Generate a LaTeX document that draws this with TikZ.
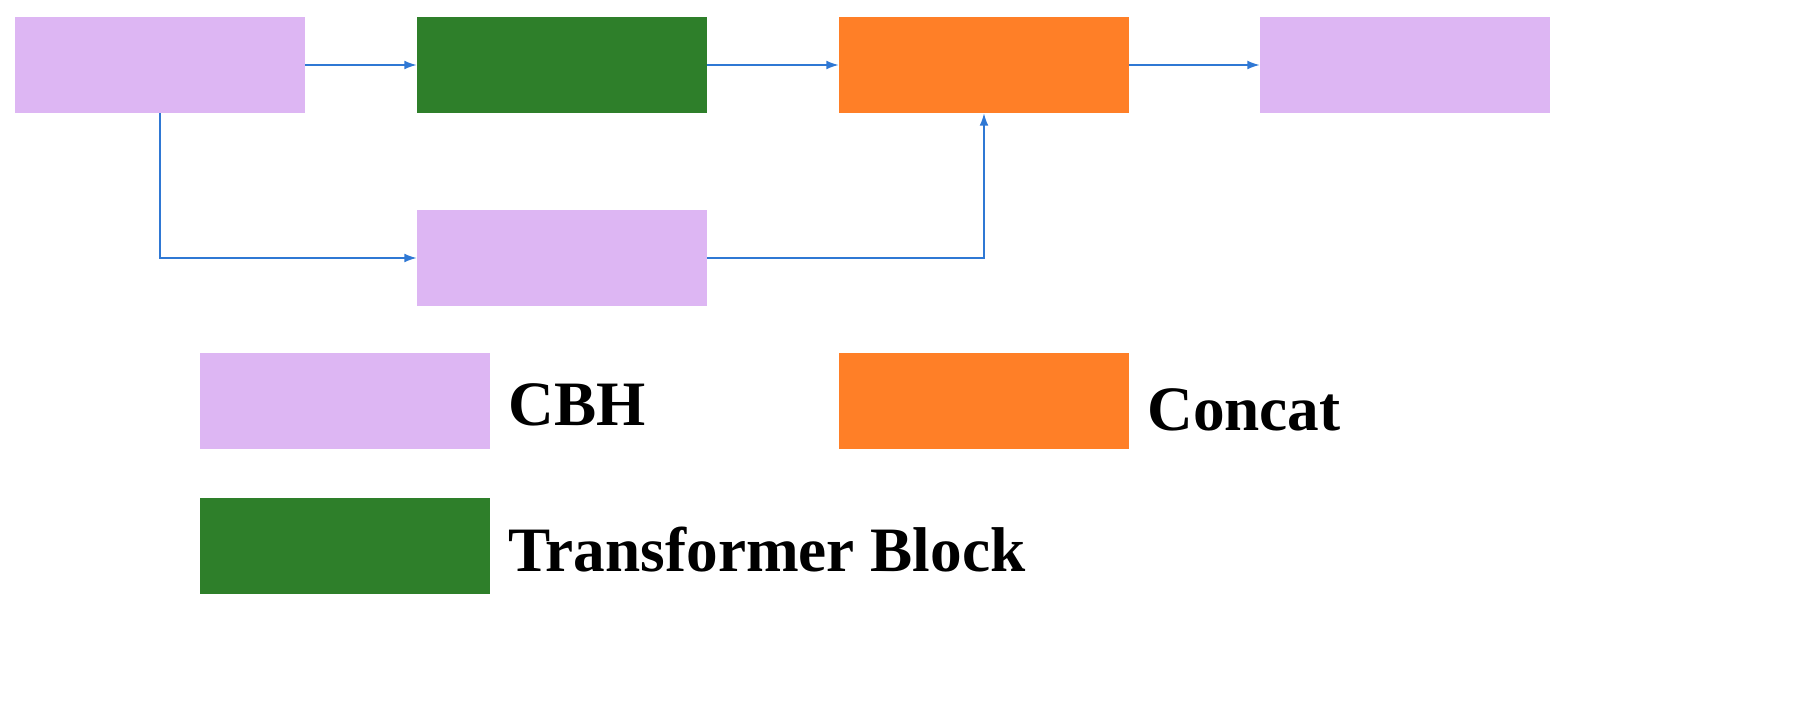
\documentclass[tikz,border=0pt]{standalone}
\usepackage{fontspec}
\setmainfont{Liberation Serif}
\usetikzlibrary{arrows.meta}
\definecolor{cbh}{HTML}{DDB6F3}
\definecolor{tb}{HTML}{2E7F2A}
\definecolor{cc}{HTML}{FF7F27}
\definecolor{ar}{HTML}{2F78D4}
\begin{document}
\begin{tikzpicture}[x=0.02cm,y=-0.02cm,
  box/.style={draw=none,minimum width=5.8cm,minimum height=1.92cm,inner sep=0},
  lab/.style={font=\bfseries\fontsize{36}{42}\selectfont,anchor=west,inner sep=0},
  conn/.style={draw=ar,line width=0.8pt,-{Latex[length=7pt,width=5pt]}}]
\useasboundingbox (0,0) rectangle (1820,719);
\node[box,fill=cbh] (a) at (160,65) {};
\node[box,fill=tb] (t) at (562,65) {};
\node[box,fill=cc] (c) at (984,65) {};
\node[box,fill=cbh] (o) at (1405,65) {};
\node[box,fill=cbh] (b) at (562,258) {};
\node[box,fill=cbh] (l1) at (345,401) {};
\node[box,fill=cc] (l2) at (984,401) {};
\node[box,fill=tb] (l3) at (345,546) {};
\node[lab] (t1) at (508,405) {CBH};
\node[lab] (t2) at (1147,410) {Concat};
\node[lab] (t3) at (508,550) {Transformer\hspace{0.25em}Block};
\draw[conn] (a) -- (t);
\draw[conn] (t) -- (c);
\draw[conn] (c) -- (o);
\draw[conn] (a.south) |- (b.west);
\draw[conn] (b.east) -| (c.south);
\end{tikzpicture}
\end{document}
